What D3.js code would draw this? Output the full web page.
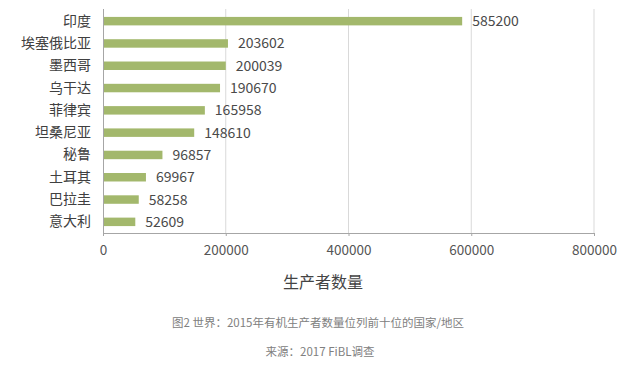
<!DOCTYPE html>
<html><head><meta charset="utf-8">
<script src="https://cdn.jsdelivr.net/npm/d3@7/dist/d3.min.js"></script>
<style>body{margin:0;background:#fff;}svg{display:block;}</style>
</head><body>
<script>
const categories = ["印度","埃塞俄比亚","墨西哥","乌干达","菲律宾","坦桑尼亚","秘鲁","土耳其","巴拉圭","意大利"];
const values = [585200,203602,200039,190670,165958,148610,96857,69967,58258,52609];
const xTicks = [0,200000,400000,600000,800000];
const axisTitle = "生产者数量";
const caption = "图2 世界：2015年有机生产者数量位列前十位的国家/地区";
const source = "来源：2017 FiBL调查";

const W=638,H=367;
const font='"Noto Sans CJK SC","Noto Sans",sans-serif';
const svg=d3.select("body").append("svg").attr("width",W).attr("height",H);
const x=d3.scaleLinear().domain([0,800000]).range([103,594]);
const y=d3.scaleBand().domain(categories).range([10,233]).paddingInner(0.62).paddingOuter(0.31);

// gridlines
svg.append("g").selectAll("line").data(xTicks.slice(1)).join("line")
  .attr("x1",d=>x(d)).attr("x2",d=>x(d)).attr("y1",9).attr("y2",233)
  .attr("stroke","#d9d9d9").attr("stroke-width",1);

// bars
svg.append("g").selectAll("rect").data(values).join("rect")
  .attr("x",x(0)).attr("y",(d,i)=>y(categories[i]))
  .attr("width",d=>x(d)-x(0)).attr("height",y.bandwidth())
  .attr("fill","#a3b86c");

// value labels
svg.append("g").selectAll("text").data(values).join("text")
  .attr("x",d=>x(d)+10).attr("y",(d,i)=>y(categories[i])+y.bandwidth()/2)
  .attr("dy","0.36em").attr("font-family",font).attr("font-size",14)
  .attr("fill","#4a4a4a").text(d=>d);

// x axis
const xa=svg.append("g").attr("transform","translate(0,233)")
  .call(d3.axisBottom(x).tickValues(xTicks).tickSize(3).tickPadding(9).tickFormat(d3.format("d")));
xa.select(".domain").attr("stroke","#a6a6a6").attr("d","M"+x(0)+",0.5H"+x(800000));
xa.selectAll(".tick line").attr("stroke","#a6a6a6");
xa.selectAll("text").attr("font-family",font).attr("font-size",13.5).attr("fill","#555");

// y axis
const ya=svg.append("g").attr("transform","translate(103,0)")
  .call(d3.axisLeft(y).tickSize(0).tickPadding(12));
ya.select(".domain").attr("stroke","#a6a6a6").attr("d","M0.5,9V233");
ya.selectAll("text").attr("font-family",font).attr("font-size",14).attr("fill","#404040");

svg.append("text").attr("x",323).attr("y",282).attr("dy","0.36em").attr("text-anchor","middle")
  .attr("font-family",font).attr("font-size",16).attr("fill","#444").text(axisTitle);
svg.append("text").attr("x",318).attr("y",323).attr("dy","0.36em").attr("text-anchor","middle")
  .attr("font-family",font).attr("font-size",11.5).attr("fill","#808080").text(caption);
svg.append("text").attr("x",320).attr("y",352).attr("dy","0.36em").attr("text-anchor","middle")
  .attr("font-family",font).attr("font-size",11.5).attr("fill","#808080").text(source);
</script>
</body></html>
